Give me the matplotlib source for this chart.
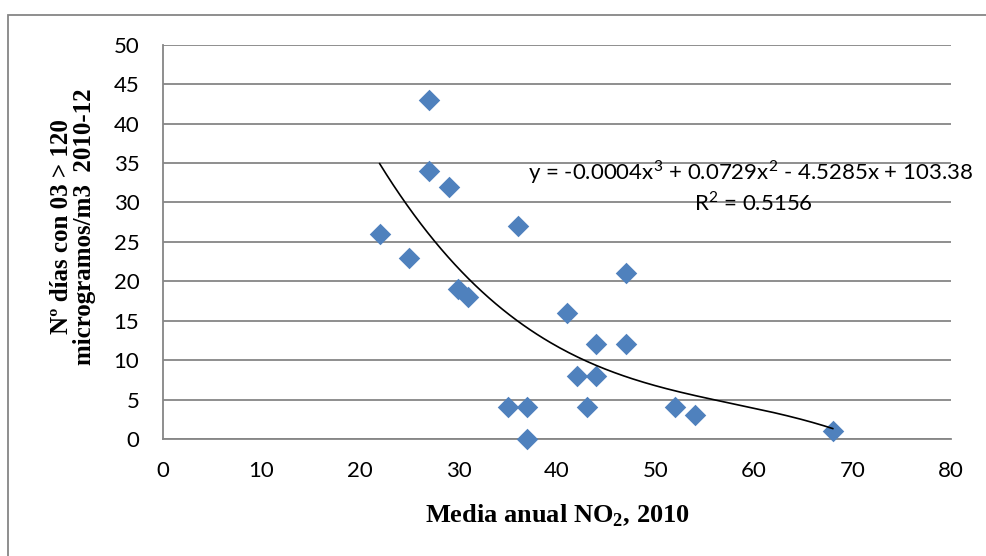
import numpy as np
import matplotlib
matplotlib.use("Agg")
import matplotlib.pyplot as plt
from matplotlib.patches import Rectangle

# media anual NO2 (2010) vs nº días con O3 > 120 (2010-12)
no2 = [22, 25, 27, 27, 29, 30, 31, 35, 36, 37, 37, 41, 42, 43, 44, 44, 47, 47, 52, 54, 68]
dias = [26, 23, 43, 34, 32, 19, 18, 4, 27, 4, 0, 16, 8, 4, 12, 8, 21, 12, 4, 3, 1]

x_ticks = [0, 10, 20, 30, 40, 50, 60, 70, 80]
y_ticks = [0, 5, 10, 15, 20, 25, 30, 35, 40, 45, 50]

eq_text = "y = -0.0004x$^3$ + 0.0729x$^2$ - 4.5285x + 103.38"
r2_text = "R$^2$ = 0.5156"

plt.rcParams['font.family'] = ['Lato', 'DejaVu Sans']
plt.rcParams['mathtext.fontset'] = 'custom'
plt.rcParams['mathtext.rm'] = 'Lato'
plt.rcParams['mathtext.bf'] = 'Liberation Serif:bold'

fig = plt.figure(figsize=(9.87, 5.56), dpi=100)
ax = fig.add_axes([0.1651, 0.2104, 0.7984, 0.7092])

# marco del gráfico
fig.patches.append(Rectangle((8 / 987, -0.1), 1.2, 1 - 15 / 556 + 0.1,
                             transform=fig.transFigure, fill=False,
                             edgecolor='#868686', linewidth=1.3))

ax.scatter(no2, dias, marker='D', s=120, color='#4F81BD', zorder=3,
           linewidths=0, clip_on=False)

# línea de tendencia polinómica de orden 3
coef = np.polyfit(no2, dias, 3)
xs = np.linspace(min(no2), max(no2), 200)
ax.plot(xs, np.polyval(coef, xs), color='black', linewidth=1.2, zorder=4)

ax.set_xlim(0, 80)
ax.set_ylim(0, 50)
ax.set_xticks(x_ticks)
ax.set_yticks(y_ticks)
ax.tick_params(length=0, labelsize=16)
ax.tick_params(axis='x', pad=16)
ax.tick_params(axis='y', pad=17)
ax.grid(axis='y', color='#868686', linewidth=1.3)
ax.set_axisbelow(True)
for s in ['top', 'right']:
    ax.spines[s].set_visible(False)
for s in ['left', 'bottom']:
    ax.spines[s].set_color('#868686')
    ax.spines[s].set_linewidth(1.3)

fig.text(557 / 987, 1 - 516 / 556, r"Media anual NO$_\mathbf{2}$, 2010",
         ha='center', va='center', fontsize=19, fontweight='bold',
         family='Liberation Serif')
fig.text(73 / 987, 1 - 227 / 556, "Nº días con 03 > 120\nmicrogramos/m3  2010-12",
         rotation=90, ha='center', va='center', fontsize=18, fontweight='bold',
         family='Liberation Serif', linespacing=1.0)

fig.text(751 / 987, 1 - 172 / 556, eq_text, ha='center', va='center', fontsize=16)
fig.text(753 / 987, 1 - 203 / 556, r2_text, ha='center', va='center', fontsize=16)

fig.savefig("out.png", dpi=100)
plt.close(fig)
